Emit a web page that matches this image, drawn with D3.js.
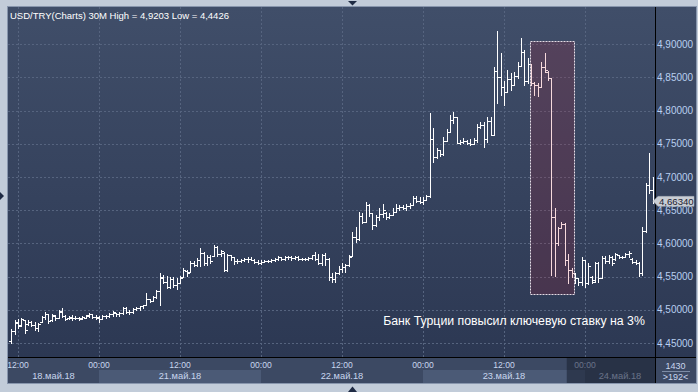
<!DOCTYPE html>
<html><head><meta charset="utf-8">
<script src="https://cdn.jsdelivr.net/npm/d3@7"></script>
<style>
html,body{margin:0;padding:0;background:#c2ccd9;overflow:hidden;}
svg{display:block;font-family:"Liberation Sans",Arial,sans-serif;}
</style></head><body>
<svg id="c" width="698" height="392"></svg>
<script>
// ---------- DATA ----------
const headerText = "USD/TRY(Charts) 30M High = 4,9203 Low = 4,4426";
const startSlot = -2; // first bar: 18 May 11:00 (slot 0 = 18 May 12:00, 30-minute bars)
const opens = [4.453,4.468,4.480,4.477,4.484,4.478,4.481,4.477,4.473,4.482,4.489,4.493,4.484,4.491,4.488,4.497,4.491,4.487,4.488,4.488,4.487,4.487,4.488,4.491,4.493,4.489,4.489,4.486,4.490,4.491,4.494,4.495,4.493,4.495,4.503,4.497,4.496,4.501,4.503,4.505,4.508,4.516,4.514,4.519,4.528,4.549,4.542,4.535,4.547,4.537,4.541,4.549,4.559,4.557,4.571,4.567,4.575,4.586,4.570,4.580,4.581,4.595,4.584,4.586,4.560,4.582,4.579,4.573,4.574,4.575,4.576,4.577,4.575,4.572,4.571,4.572,4.573,4.574,4.575,4.577,4.579,4.577,4.579,4.580,4.578,4.580,4.577,4.576,4.577,4.578,4.582,4.576,4.570,4.582,4.577,4.549,4.546,4.555,4.562,4.565,4.567,4.581,4.610,4.606,4.642,4.633,4.658,4.646,4.628,4.640,4.645,4.646,4.640,4.643,4.648,4.653,4.655,4.653,4.657,4.658,4.668,4.664,4.662,4.666,4.672,4.758,4.730,4.741,4.735,4.755,4.768,4.786,4.790,4.752,4.753,4.755,4.752,4.750,4.756,4.775,4.778,4.757,4.785,4.764,4.860,4.850,4.835,4.828,4.848,4.838,4.852,4.868,4.889,4.845,4.870,4.842,4.838,4.836,4.866,4.859,4.849,4.640,4.600,4.624,4.630,4.575,4.560,4.555,4.548,4.542,4.575,4.540,4.549,4.545,4.570,4.548,4.578,4.574,4.580,4.576,4.582,4.579,4.580,4.584,4.576,4.572,4.570,4.555,4.618,4.688,4.680];
const highs = [4.4706,4.485,4.4855,4.4877,4.4845,4.4841,4.4826,4.4811,4.4801,4.4912,4.4962,4.4935,4.4942,4.4927,4.5002,4.5027,4.4927,4.4912,4.4927,4.4912,4.4892,4.4902,4.4927,4.4952,4.4942,4.4927,4.4912,4.4927,4.4927,4.4952,4.4977,4.4955,4.4962,4.5042,4.5042,4.5002,4.5027,4.5042,4.5062,4.5077,4.5253,4.5165,4.5203,4.5303,4.5554,4.5529,4.5504,4.5494,4.5494,4.5479,4.5504,4.5630,4.5598,4.5730,4.5730,4.5780,4.5931,4.5866,4.5830,4.5830,4.5981,4.5956,4.5906,4.5865,4.5845,4.5830,4.5795,4.5765,4.5765,4.5780,4.5795,4.5795,4.5765,4.5745,4.5745,4.5755,4.5755,4.5765,4.5780,4.5805,4.5795,4.5805,4.5815,4.5815,4.5815,4.5805,4.5780,4.5780,4.5795,4.5830,4.5865,4.5845,4.5845,4.5851,4.5775,4.5549,4.5574,4.5665,4.5700,4.5685,4.5825,4.6177,4.6252,4.6478,4.6453,4.6619,4.6593,4.6465,4.6428,4.6528,4.6588,4.6478,4.6453,4.6528,4.6588,4.6578,4.6578,4.6588,4.6603,4.6714,4.6714,4.6704,4.6704,4.6730,4.7961,4.7735,4.7443,4.7415,4.7609,4.7724,4.7935,4.7975,4.7900,4.7558,4.7594,4.7558,4.7573,4.7584,4.7795,4.7825,4.7835,4.7910,4.7910,4.8664,4.9199,4.8863,4.8446,4.8612,4.8561,4.8587,4.8737,4.9089,4.8913,4.8788,4.8700,4.8436,4.8411,4.8737,4.8863,4.8597,4.8490,4.6529,4.6253,4.6328,4.6310,4.5836,4.5625,4.5555,4.5480,4.5801,4.5755,4.5700,4.5510,4.5726,4.5726,4.5811,4.5811,4.5826,4.5805,4.5851,4.5826,4.5811,4.5851,4.5886,4.5776,4.5745,4.5726,4.6250,4.6910,4.7360,4.7000];
const lows = [4.4495,4.464,4.4726,4.4751,4.4651,4.4776,4.4751,4.4701,4.4676,4.4811,4.4861,4.4801,4.4826,4.4841,4.4877,4.4892,4.4841,4.4861,4.4851,4.4861,4.4841,4.4861,4.4877,4.4892,4.4877,4.4861,4.4811,4.4861,4.4877,4.4892,4.4902,4.4912,4.4912,4.4942,4.4952,4.4942,4.4958,4.4992,4.5002,4.5027,4.5070,4.5112,4.5128,4.5178,4.5078,4.5404,4.5328,4.5328,4.5343,4.5313,4.5405,4.5490,4.5504,4.5565,4.5655,4.5665,4.5665,4.5680,4.5680,4.5705,4.5805,4.5815,4.5805,4.5579,4.5579,4.5755,4.5695,4.5705,4.5715,4.5730,4.5715,4.5745,4.5705,4.5695,4.5695,4.5715,4.5715,4.5725,4.5730,4.5745,4.5745,4.5745,4.5765,4.5755,4.5765,4.5745,4.5745,4.5745,4.5745,4.5765,4.5745,4.5695,4.5680,4.5675,4.5449,4.5414,4.5424,4.5545,4.5574,4.5574,4.5665,4.5805,4.6026,4.6050,4.6302,4.6320,4.6418,4.6217,4.6270,4.6352,4.6403,4.6367,4.6378,4.6428,4.6475,4.6503,4.6518,4.6503,4.6528,4.6580,4.6619,4.6603,4.6588,4.6660,4.6700,4.7232,4.7283,4.7323,4.7333,4.7550,4.7675,4.7809,4.7507,4.7493,4.7507,4.7493,4.7483,4.7493,4.7523,4.7745,4.7458,4.7533,4.7634,4.7630,4.8111,4.8235,4.8085,4.8280,4.8310,4.8380,4.8496,4.8675,4.8385,4.8411,4.8385,4.8235,4.8215,4.8355,4.8587,4.8461,4.5524,4.5514,4.5977,4.6228,4.5675,4.5399,4.5499,4.5399,4.5374,4.5374,4.5349,4.5395,4.5399,4.5424,4.5424,4.5474,4.5700,4.5700,4.5675,4.5751,4.5776,4.5776,4.5791,4.5801,4.5700,4.5685,4.5510,4.5520,4.6170,4.6760,4.6608];
const closes = [4.468,4.482,4.476,4.486,4.469,4.482,4.477,4.472,4.478,4.489,4.494,4.483,4.492,4.487,4.498,4.491,4.486,4.489,4.487,4.487,4.486,4.489,4.492,4.493,4.489,4.488,4.486,4.490,4.491,4.494,4.496,4.493,4.495,4.503,4.497,4.496,4.501,4.503,4.505,4.507,4.516,4.514,4.519,4.528,4.548,4.542,4.535,4.547,4.537,4.540,4.548,4.560,4.556,4.571,4.567,4.575,4.586,4.570,4.580,4.574,4.595,4.584,4.589,4.560,4.582,4.579,4.573,4.574,4.575,4.576,4.577,4.575,4.572,4.571,4.572,4.573,4.574,4.575,4.577,4.579,4.577,4.579,4.580,4.578,4.580,4.577,4.576,4.577,4.578,4.582,4.576,4.570,4.582,4.577,4.549,4.546,4.555,4.562,4.565,4.567,4.580,4.610,4.606,4.642,4.633,4.658,4.646,4.628,4.640,4.645,4.650,4.640,4.643,4.648,4.653,4.655,4.653,4.657,4.658,4.668,4.664,4.662,4.666,4.672,4.758,4.730,4.741,4.735,4.755,4.768,4.786,4.790,4.752,4.753,4.755,4.752,4.750,4.756,4.775,4.778,4.757,4.785,4.764,4.860,4.850,4.835,4.828,4.848,4.838,4.852,4.868,4.889,4.845,4.870,4.842,4.838,4.836,4.866,4.862,4.849,4.640,4.600,4.624,4.630,4.575,4.560,4.555,4.548,4.542,4.575,4.540,4.566,4.542,4.570,4.548,4.578,4.574,4.580,4.571,4.584,4.579,4.580,4.584,4.586,4.572,4.570,4.555,4.618,4.688,4.680,4.6634];
const priceTicks = [4.45,4.50,4.55,4.60,4.65,4.70,4.75,4.80,4.85,4.90];
const timeTickSlots = [0,24,48,72,96,120,144,168];
const timeTickLabels = ["12:00","00:00","12:00","00:00","12:00","00:00","12:00","00:00"];
const dayLabels = ["18.май.18","21.май.18","22.май.18","23.май.18","24.май.18"];
const dayStartSlots = [-24,24,72,120,168];
const dayEndSlots = [24,72,120,168,216];
const lastPrice = 4.6634;
const annotationText = "Банк Турции повысил ключевую ставку на 3%";
const annotationSlots = [151.8,164.8];
const annotationPrices = [4.5245,4.905];
const annotationTextPos = [108.2,4.4772];
const shadeStartSlot = 162.6;
const cornerLabels = ["1430",">192<"];

// ---------- LAYOUT ----------
const L=8, T=7, R=655, RR=696, B=357, BB=383;
const svg = d3.select("#c");
const x = d3.scaleLinear().domain([0,168]).range([18,585]);
const y = d3.scaleLinear().domain([4.45,4.90]).range([343,44.3]);
const fmt = d3.formatLocale({decimal:",",thousands:" ",grouping:[3],currency:["",""]}).format(".5f");

const defs = svg.append("defs");
const g1 = defs.append("linearGradient").attr("id","bg").attr("x1",0).attr("y1",0).attr("x2",0).attr("y2",1);
g1.append("stop").attr("offset","0%").attr("stop-color","#404e69");
g1.append("stop").attr("offset","100%").attr("stop-color","#2c3853");
defs.append("clipPath").attr("id","plotclip").append("rect").attr("x",L).attr("y",T).attr("width",R-L).attr("height",B-T);
defs.append("clipPath").attr("id","axclip").append("rect").attr("x",L).attr("y",B).attr("width",R-L).attr("height",BB-B);

// frame
svg.append("rect").attr("x",L-0.5).attr("y",T-0.5).attr("width",RR-L+1).attr("height",BB-T+1)
  .attr("fill","none").attr("stroke","#8896ad");
svg.append("rect").attr("x",L).attr("y",T).attr("width",RR-L).attr("height",B-T).attr("fill","url(#bg)");

// bottom axis rows
svg.append("rect").attr("x",L).attr("y",B).attr("width",RR-L).attr("height",BB-B).attr("fill","#3c4963");
const ax = svg.append("g").attr("clip-path","url(#axclip)");
ax.selectAll("rect.day").data(dayLabels).join("rect")
  .attr("x",(d,i)=>x(dayStartSlots[i])).attr("y",370)
  .attr("width",(d,i)=>x(dayEndSlots[i])-x(dayStartSlots[i])).attr("height",BB-370)
  .attr("fill",(d,i)=>i%2? "#4b5a76":"#3c4963");

// grid
const grid = svg.append("g").attr("stroke","#56647f").attr("stroke-dasharray","2,2").attr("shape-rendering","crispEdges");
grid.selectAll("line.h").data(priceTicks).join("line")
  .attr("x1",L).attr("x2",R).attr("y1",d=>Math.round(y(d))+0.5).attr("y2",d=>Math.round(y(d))+0.5);
grid.selectAll("line.v").data(timeTickSlots).join("line")
  .attr("y1",T).attr("y2",B).attr("x1",d=>Math.round(x(d))+0.5).attr("x2",d=>Math.round(x(d))+0.5);

// bars
const bars = svg.append("g").attr("clip-path","url(#plotclip)");
const barPath = opens.map((o,i)=>{
  const s = startSlot+i, cx = Math.round(x(s));
  const hi = Math.max(highs[i],o,closes[i]), lo = Math.min(lows[i],o,closes[i]);
  const yh = Math.round(y(hi)), yl = Math.round(y(lo));
  const yo = Math.round(y(o)), yc = Math.round(y(closes[i]));
  return `M${cx+0.5},${yh}V${yl+1}M${cx-2},${yo+0.5}H${cx}M${cx+1},${yc+0.5}H${cx+3}`;
}).join("");
bars.append("path").attr("d",barPath).attr("stroke","#ffffff").attr("stroke-width",1).attr("fill","none").attr("shape-rendering","crispEdges");

// annotation
const ax0=Math.round(x(annotationSlots[0])), ax1=Math.round(x(annotationSlots[1]));
const ay0=Math.round(y(annotationPrices[1])), ay1=Math.round(y(annotationPrices[0]));
svg.append("rect").attr("x",ax0+0.5).attr("y",ay0+0.5).attr("width",ax1-ax0).attr("height",ay1-ay0)
  .attr("fill","rgba(200,20,40,0.16)").attr("stroke","#e6dde6").attr("stroke-dasharray","2,1");
svg.append("text").attr("x",x(annotationTextPos[0])).attr("y",y(annotationTextPos[1]))
  .attr("fill","#ffffff").attr("font-size","12.3px").text(annotationText);

// separators
svg.append("line").attr("x1",R+0.5).attr("x2",R+0.5).attr("y1",T).attr("y2",BB).attr("stroke","#000");
svg.append("line").attr("x1",L).attr("x2",RR).attr("y1",B+0.5).attr("y2",B+0.5).attr("stroke","#000");

// y labels
svg.append("g").selectAll("text").data(priceTicks).join("text")
  .attr("x",657).attr("y",d=>y(d)+3.6).attr("fill","#b9cff0").attr("font-size","10px").text(d=>fmt(d));

// last price box
const ly = y(lastPrice);
svg.append("path").attr("d",`M653,${ly}L658,${ly-5}H694V${ly+5}H658Z`).attr("fill","#c9cdd4").attr("stroke","#a4aab4").attr("stroke-width",0.5);
svg.append("text").attr("x",659).attr("y",ly+3.4).attr("fill","#1a2030").attr("font-size","9.6px").text(fmt(lastPrice));

// time labels
svg.append("g").attr("clip-path","url(#axclip)").selectAll("text").data(timeTickSlots).join("text")
  .attr("x",d=>x(d)).attr("y",368.3).attr("text-anchor","middle").attr("fill","#c8d6ee").attr("font-size","8.6px")
  .text((d,i)=>timeTickLabels[i]);
svg.append("g").selectAll("text").data(dayLabels).join("text")
  .attr("x",(d,i)=>(Math.max(L,x(dayStartSlots[i]))+Math.min(R,x(dayEndSlots[i])))/2)
  .attr("y",379.3).attr("text-anchor","middle").attr("fill","#c8d6ee").attr("font-size","9.3px").text(d=>d);
svg.append("rect").attr("x",x(shadeStartSlot)).attr("y",B+1).attr("width",R-x(shadeStartSlot)).attr("height",BB-B-1)
  .attr("fill","rgba(24,31,48,0.55)");

// corner
svg.append("text").attr("x",675.5).attr("y",368.5).attr("text-anchor","middle").attr("fill","#c8d6ee").attr("font-size","9px").text(cornerLabels[0]);
svg.append("line").attr("x1",662).attr("x2",690).attr("y1",371.5).attr("y2",371.5).attr("stroke","#7d8ca6");
svg.append("text").attr("x",675.5).attr("y",380).attr("text-anchor","middle").attr("fill","#c8d6ee").attr("font-size","9px").text(cornerLabels[1]);

// header
svg.append("text").attr("x",10).attr("y",18.5).attr("fill","#ffffff").attr("font-size","9.5px").text(headerText);

// small markers
svg.append("path").attr("d","M348,1H357L352.5,5.5Z").attr("fill","#1f2b44");
svg.append("path").attr("d","M348,392H357L352.5,386.5Z").attr("fill","#1f2b44");
svg.append("path").attr("d","M0,192V200L4,196Z").attr("fill","#1f2b44");
</script>
</body></html>
